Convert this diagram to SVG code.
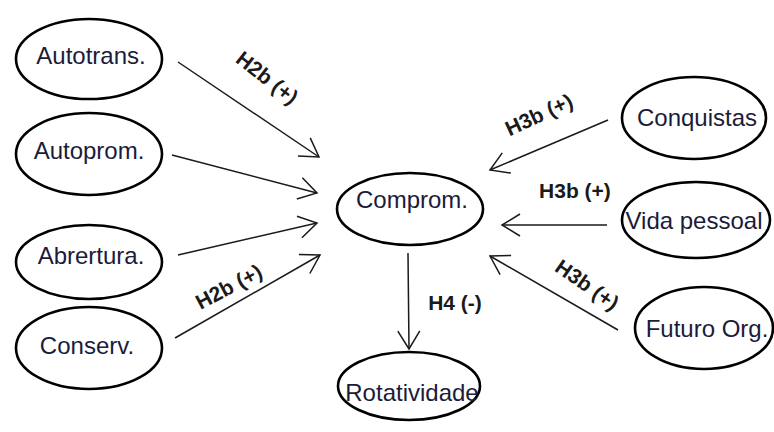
<svg xmlns="http://www.w3.org/2000/svg" width="774" height="432" viewBox="0 0 774 432">
<defs>
<style>
.node ellipse{fill:#fff;stroke:#000;stroke-width:2.6}
.node text{font-family:"Liberation Sans",Arial,sans-serif;font-size:24px;fill:#1b1b3a;text-anchor:middle}
.edges line{stroke:#1a1a1a;stroke-width:1.5;fill:none;marker-end:url(#arr)}
.lbl{font-family:"Liberation Sans",Arial,sans-serif;font-size:21px;font-weight:bold;fill:#1a1a1a;text-anchor:middle}
</style>
<marker id="arr" markerUnits="userSpaceOnUse" markerWidth="24" markerHeight="26" refX="19" refY="12" orient="auto">
<path d="M1,1 L19,12 L1,23" fill="none" stroke="#1a1a1a" stroke-width="1.5"/>
</marker>
</defs>
<rect width="774" height="432" fill="#fff"/>
<g class="edges" id="edges">
<line x1="178" y1="62" x2="319" y2="157"/>
<line x1="172" y1="155" x2="317" y2="193"/>
<line x1="178" y1="255" x2="317" y2="223"/>
<line x1="175" y1="338" x2="320" y2="255"/>
<line x1="408" y1="253" x2="409" y2="349"/>
<line x1="608" y1="120" x2="490" y2="170"/>
<line x1="607" y1="225" x2="502" y2="225"/>
<line x1="618" y1="330" x2="490" y2="256"/>
</g>
<g id="labels">
<text class="lbl" transform="translate(267,78) rotate(38)" y="7">H2b (+)</text>
<text class="lbl" transform="translate(229,287) rotate(-28)" y="7">H2b (+)</text>
<text class="lbl" transform="translate(539,115) rotate(-25)" y="7">H3b (+)</text>
<text class="lbl" x="575" y="198">H3b (+)</text>
<text class="lbl" transform="translate(587,285) rotate(35)" y="7">H3b (+)</text>
<text class="lbl" x="455" y="310">H4 (-)</text>
</g>
<g class="node" id="autotrans"><ellipse cx="89" cy="59" rx="73" ry="40"/><text x="91" y="64">Autotrans.</text></g>
<g class="node" id="autoprom"><ellipse cx="89" cy="154" rx="73" ry="41"/><text x="89" y="159">Autoprom.</text></g>
<g class="node" id="abrertura"><ellipse cx="89" cy="262" rx="73" ry="37"/><text x="91" y="264">Abrertura.</text></g>
<g class="node" id="conserv"><ellipse cx="89" cy="348" rx="73" ry="41"/><text x="87" y="354">Conserv.</text></g>
<g class="node" id="comprom"><ellipse cx="410" cy="209" rx="73" ry="36"/><text x="412" y="208">Comprom.</text></g>
<g class="node" id="rotatividade"><ellipse cx="409" cy="386" rx="71" ry="34"/><text x="412" y="401">Rotatividade</text></g>
<g class="node" id="conquistas"><ellipse cx="694" cy="118" rx="72" ry="41"/><text x="697" y="126">Conquistas</text></g>
<g class="node" id="vidapessoal"><ellipse cx="696" cy="220" rx="74" ry="38"/><text x="694" y="229">Vida pessoal</text></g>
<g class="node" id="futuroorg"><ellipse cx="704" cy="328" rx="69" ry="41"/><text x="707" y="337">Futuro Org.</text></g>
</svg>
